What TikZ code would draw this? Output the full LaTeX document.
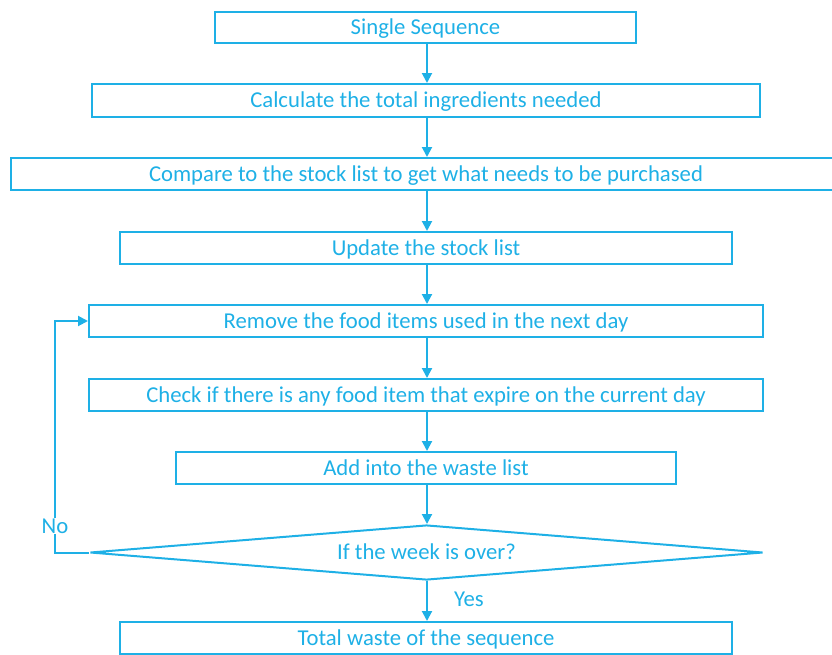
\documentclass[tikz,border=0pt]{standalone}
\usepackage{fontspec}
\setmainfont{Carlito}
\usetikzlibrary{arrows.meta,shapes.geometric}
\definecolor{fc}{HTML}{1EB0E6}
\begin{document}
\begin{tikzpicture}[x=1pt,y=-1pt,
  txt/.style={text=fc,font=\fontsize{22.7}{26}\selectfont},
  box/.style={txt,draw=fc,line width=2pt,rectangle,inner sep=0pt,text height=17pt,text depth=3pt},
  dec/.style={txt,draw=fc,line width=2pt,diamond,shape aspect=12.2,inner sep=0pt,minimum width=673pt,minimum height=55pt,text height=17pt,text depth=3pt},
  lbl/.style={txt,inner sep=1pt},
  arr/.style={draw=fc,line width=2pt,-{Triangle[length=10pt,width=10pt]}}]
\useasboundingbox (0,0) rectangle (832,654);
\clip (0,0) rectangle (832,654);
\node[box,minimum width=421pt,minimum height=31pt] (n1) at (425.5,27.5) {Single Sequence};
\node[box,minimum width=668pt,minimum height=33pt] (n2) at (426,100.5) {Calculate the total ingredients needed};
\node[box,minimum width=830pt,minimum height=32pt] (n3) at (426,174) {Compare to the stock list to get what needs to be purchased};
\node[box,minimum width=612pt,minimum height=32pt] (n4) at (426,248) {Update the stock list};
\node[box,minimum width=674pt,minimum height=32pt] (n5) at (426,321) {Remove the food items used in the next day};
\node[box,minimum width=674pt,minimum height=32pt] (n6) at (426,395) {Check if there is any food item that expire on the current day};
\node[box,minimum width=500pt,minimum height=32pt] (n7) at (426,468) {Add into the waste list};
\node[dec] (d) at (426.5,552.5) {If the week is over?};
\node[box,minimum width=612pt,minimum height=32pt] (n8) at (426,638) {Total waste of the sequence};
\coordinate (lp) at (55,552.5);
\draw[arr] (n1.south -| 427,0) -- (n2.north -| 427,0);
\draw[arr] (n2.south -| 427,0) -- (n3.north -| 427,0);
\draw[arr] (n3.south -| 427,0) -- (n4.north -| 427,0);
\draw[arr] (n4.south -| 427,0) -- (n5.north -| 427,0);
\draw[arr] (n5.south -| 427,0) -- (n6.north -| 427,0);
\draw[arr] (n6.south -| 427,0) -- (n7.north -| 427,0);
\draw[arr] (n7.south -| 427,0) -- (d.north -| 427,0);
\draw[arr] (d.south -| 427,0) -- (n8.north -| 427,0);
\draw[arr] (d.west) -- (lp) |- (n5.west);
\node[lbl,fill=white] (no) at (55,526) {No};
\node[lbl] (yes) at (469,599) {Yes};
\end{tikzpicture}
\end{document}
